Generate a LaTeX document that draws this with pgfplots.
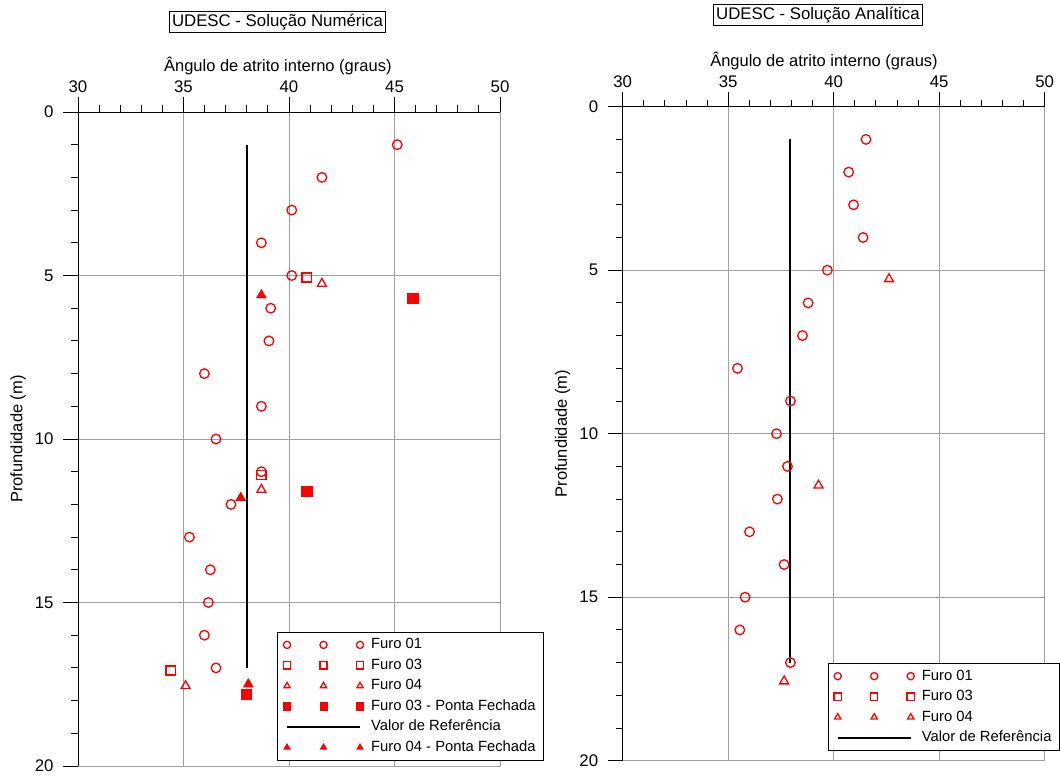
\documentclass[border=0pt]{standalone}
\usepackage{fontspec}
\setmainfont{Liberation Sans}
\usepackage{pgfplots}
\pgfplotsset{compat=1.18}
\definecolor{gridgray}{HTML}{A0A0A0}
\pgfplotsset{
  mychart/.style={
    scale only axis, width=422bp, height=654bp,
    xmin=30, xmax=50, ymin=0, ymax=20, y dir=reverse,
    axis x line*=top, axis y line*=left,
    axis line style={black, line width=0.9bp},
    xtick={30,35,40,45,50}, ytick={0,5,10,15,20},
    minor x tick num=4, minor y tick num=4,
    tick align=outside,
    major tick length=15bp, minor tick length=7bp,
    every tick/.style={black, line width=0.9bp},
    grid=major,
    major grid style={gridgray, line width=0.9bp},
    /pgf/number format/assume math mode=true,
    ticklabel style={font=\fontsize{16.8bp}{19bp}\selectfont},
    xticklabel style={yshift=3bp, inner ysep=1bp},
    yticklabel style={xshift=-6bp},
    label style={font=\fontsize{16.5bp}{19bp}\selectfont},
    title style={font=\fontsize{16.8bp}{19bp}\selectfont, draw=black, line width=0.8bp, inner sep=2.5bp, anchor=center},
    ylabel style={at={([xshift=-60bp]axis description cs:0,0.5)}, anchor=center},
    legend cell align=left,
    legend style={draw=black, line width=0.8bp, font=\fontsize{14.8bp}{17bp}\selectfont,
      inner xsep=6bp, inner ysep=4bp, row sep=3.5bp, column sep=6bp,
      nodes={inner sep=1.5bp, text height=11bp, text depth=3bp},
      anchor=north west},
    xlabel={Ângulo de atrito interno (graus)},
    ylabel={Profundidade (m)},
  },
  three marks/.style={legend image code/.code={\draw[##1, only marks, mark size=3.6bp] plot coordinates {(0bp,0bp)(36.5bp,0bp)(73bp,0bp)};}},
  ref line/.style={legend image code/.code={\draw[##1] (0bp,0bp) -- (73bp,0bp);}},
  furo01/.style={only marks, mark=o, red, mark size=4.8bp, line width=1.3bp, three marks},
  furo03/.style={only marks, mark=square, red, mark size=4.6bp, line width=1.3bp, three marks},
  furo04/.style={only marks, mark=triangle, red, mark size=5.2bp, line width=1.3bp, three marks},
  furo03pf/.style={only marks, mark=square*, red, mark size=5.2bp, three marks},
  furo04pf/.style={only marks, mark=triangle*, red, mark size=5.8bp, three marks},
  valref/.style={black, line width=2bp, ref line},
}
\begin{document}
\begin{tikzpicture}
\useasboundingbox (0,0) rectangle (1060bp,-776bp);
% ---------------- Left: numerical solution
\begin{axis}[mychart,
  at={(78bp,-112bp)}, anchor=north west,
  title={UDESC - Solução Numérica},
  title style={at={([yshift=84bp]axis description cs:0.4728,1)}},
  xlabel style={at={([yshift=41bp]axis description cs:0.4735,1)}, anchor=base, inner ysep=1bp},
  legend style={at={(axis description cs:0.4716,0.2049)}},
]
\addplot[furo01] coordinates {(45.13,1)(41.56,2)(40.13,3)(38.69,4)(40.13,5)(39.13,6)(39.05,7)(35.99,8)(38.69,9)(36.54,10)(38.69,11)(37.25,12)(35.28,13)(36.27,14)(36.18,15)(35.99,16)(36.54,17)};
\addlegendentry{Furo 01}
\addplot[furo03] coordinates {(40.84,5.06)(38.69,11.1)(34.39,17.08)};
\addlegendentry{Furo 03}
\addplot[furo04] coordinates {(41.56,5.25)(38.69,11.55)(35.1,17.55)};
\addlegendentry{Furo 04}
\addplot[furo03pf] coordinates {(45.86,5.7)(40.84,11.6)(37.98,17.8)};
\addlegendentry{Furo 03 - Ponta Fechada}
\addplot[valref] coordinates {(38,1)(38,17)};
\addlegendentry{Valor de Referência}
\addplot[furo04pf] coordinates {(38.69,5.6)(37.71,11.8)(38.07,17.5)};
\addlegendentry{Furo 04 - Ponta Fechada}
\end{axis}
% ---------------- Right: analytical solution
\begin{axis}[mychart,
  at={(622.7bp,-106.7bp)}, anchor=north west,
  title={UDESC - Solução Analítica},
  title style={at={([yshift=86bp]axis description cs:0.4626,1)}},
  xlabel style={at={([yshift=40bp]axis description cs:0.477,1)}, anchor=base, inner ysep=1bp},
  legend style={at={(axis description cs:0.4858,0.149)}},
]
\addplot[furo01] coordinates {(41.53,1)(40.71,2)(40.94,3)(41.39,4)(39.70,5)(38.79,6)(38.52,7)(35.44,8)(37.95,9)(37.29,10)(37.81,11)(37.33,12)(36.01,13)(37.65,14)(35.80,15)(35.55,16)(37.95,17)};
\addlegendentry{Furo 01}
\addlegendimage{furo03}
\addlegendentry{Furo 03}
\addplot[furo04] coordinates {(42.62,5.27)(39.28,11.58)(37.65,17.57)};
\addlegendentry{Furo 04}
\addplot[valref] coordinates {(37.95,1)(37.95,17)};
\addlegendentry{Valor de Referência}
\end{axis}
\end{tikzpicture}
\end{document}
